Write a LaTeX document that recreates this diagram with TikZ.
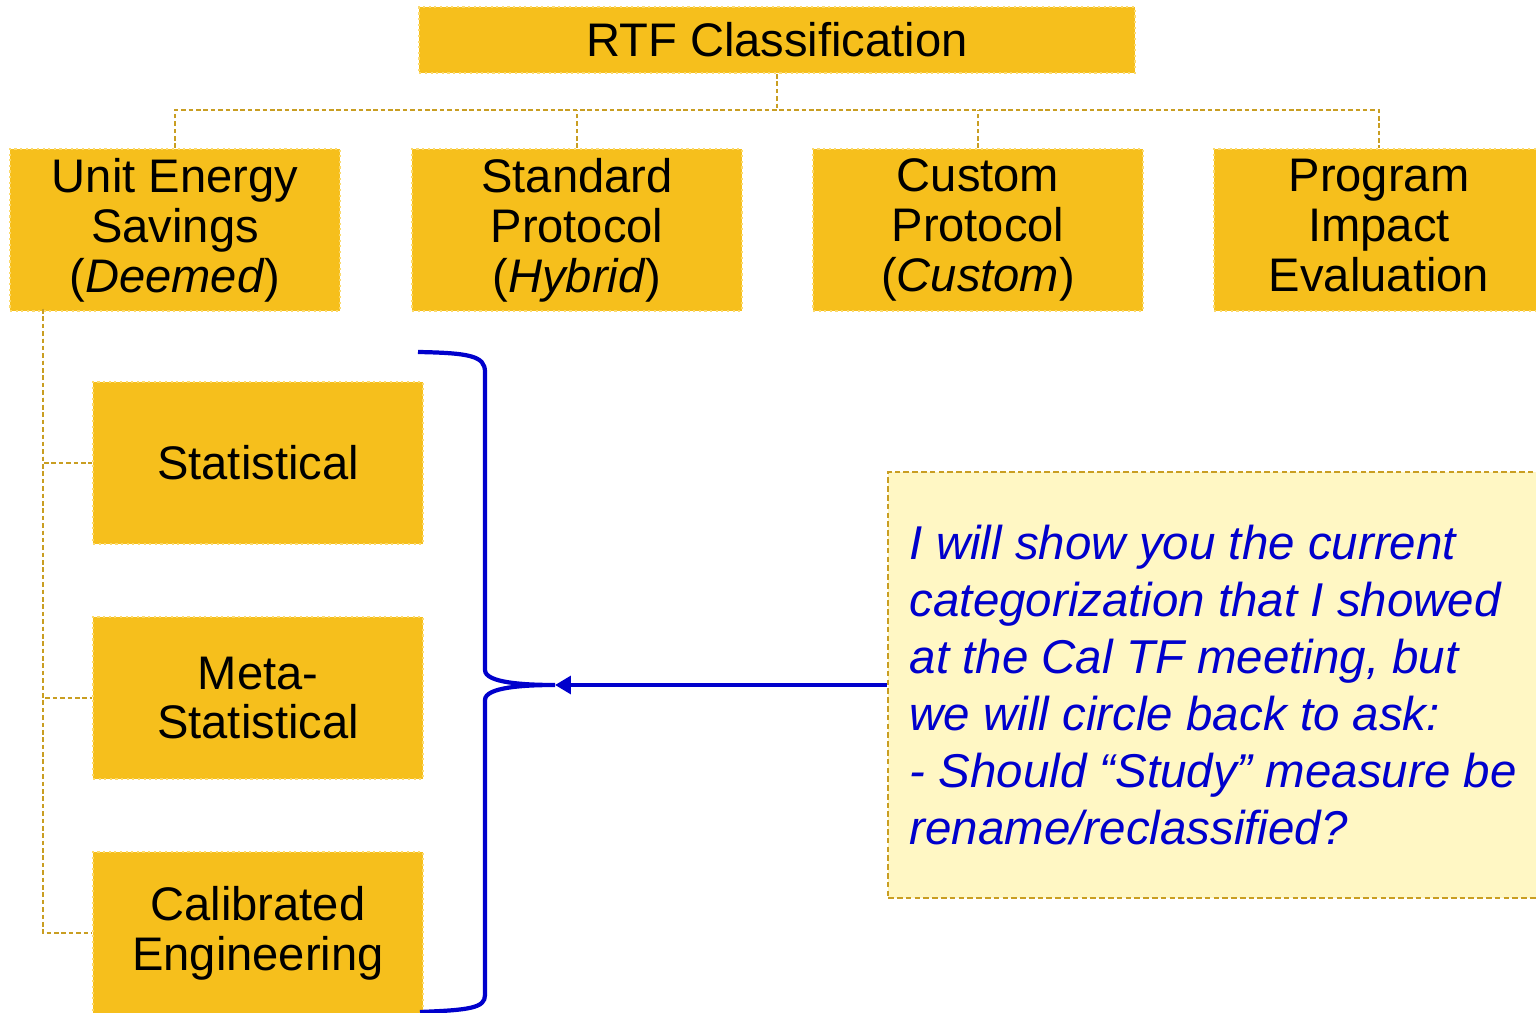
\documentclass[tikz,border=0pt]{standalone}
\usepackage{fontspec}
\setmainfont{Liberation Sans}
\usetikzlibrary{arrows.meta}

\definecolor{boxfill}{HTML}{F6BF1C}
\definecolor{boxedge}{HTML}{FBDA6E}
\definecolor{linkgold}{HTML}{C99E22}
\definecolor{notefill}{HTML}{FFF7C4}
\definecolor{noteblue}{HTML}{0000CC}

\tikzset{
  catbox/.style={fill=boxfill, draw=boxedge, densely dotted, line width=0.6pt,
    minimum width=3.3cm, minimum height=1.62cm, inner sep=0pt, align=center,
    font=\fontsize{13.4}{14.2}\selectfont},
  link/.style={draw=linkgold, line width=0.7pt, dash pattern=on 1.3pt off 0.8pt},
  brace/.style={draw=noteblue, line width=1.2pt},
}

\begin{document}
\begin{tikzpicture}[x=0.01cm, y=-0.01cm]
        % Fix page size
        \useasboundingbox (0,0) rectangle (1536,1013);
        \clip (0,0) rectangle (1536,1013);

        % Top of the tree
        \node[catbox, minimum width=7.15cm, minimum height=0.66cm] (rtf) at (777,40) {RTF Classification};

        % Second level
        \node[catbox] (ues) at (175,230) {Unit Energy\\Savings\\(\textit{Deemed})};
        \node[catbox] (std) at (577,230) {Standard\\Protocol\\(\textit{Hybrid})};
        \node[catbox] (cus) at (978,230) {Custom\\Protocol\\(\textit{Custom})};
        \node[catbox] (pie) at (1379,230) {Program\\Impact\\Evaluation\vphantom{()}};

        % Third level under deemed savings
        \node[catbox] (stat) at (258,463) {Statistical};
        \node[catbox] (meta) at (258,698) {Meta-\\Statistical};
        \node[catbox] (cal) at (258,933) {Calibrated\\Engineering};

        % Tree connectors
        \draw[link] (rtf.south) -- ++(0,36);
        \draw[link] (ues.north) -- ++(0,-38) -| (pie.north);
        \draw[link] (std.north) -- ++(0,-38);
        \draw[link] (cus.north) -- ++(0,-38);
        \coordinate (spine) at (43,309);
        \draw[link] (spine) |- (stat.west);
        \draw[link] (spine) |- (meta.west);
        \draw[link] (spine) |- (cal.west);

        % Note box
        \node[fill=notefill, draw=linkgold, line width=0.7pt, dash pattern=on 1.6pt off 0.9pt,
              minimum width=7.2cm, minimum height=4.26cm, anchor=west, inner sep=0pt] (note) at (887,685) {};
        \node[anchor=west, align=left, text=noteblue, inner sep=0pt,
              font=\fontsize{13.5}{16.2}\selectfont\itshape] (notetext) at (909,685)
              {I will show you the current\\categorization that I showed\\at the Cal TF meeting, but\\we will circle back to ask:\\- Should “Study” measure be\\rename/reclassified?};

        % Brace round the third level
        \coordinate (tip) at (555,685);
        \draw[brace] (418,352) .. controls (470,353) and (485,356) .. (485,372)
              -- (485,670) .. controls (485,683) and (525,685) .. (tip)
              .. controls (525,685) and (485,687) .. (485,700)
              -- (485,995) .. controls (485,1008) and (470,1010) .. (420,1012);

        % Arrow from note to brace
        \draw[brace, -{Triangle[length=4.5pt, width=5pt]}] (note.west) -- (tip);
\end{tikzpicture}
\end{document}
